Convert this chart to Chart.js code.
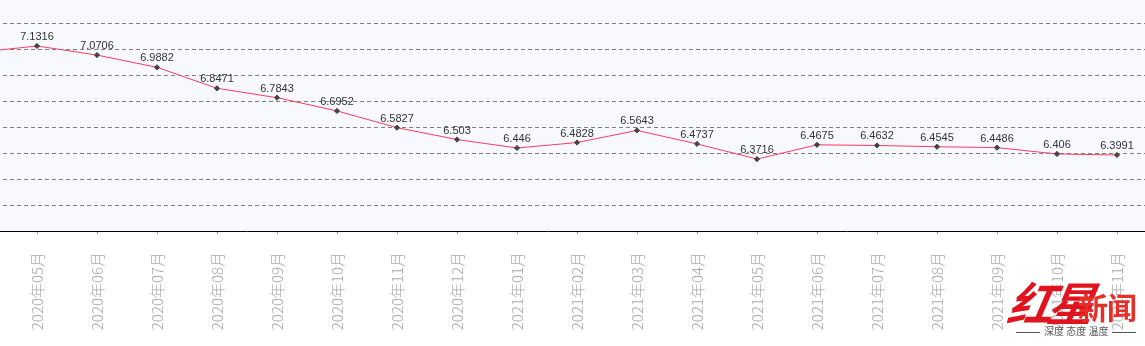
<!DOCTYPE html>
<html lang="zh-CN">
<head>
<meta charset="utf-8">
<title>人民币汇率中间价月度走势</title>
<script src="https://cdn.jsdelivr.net/npm/chart.js@4.4.1/dist/chart.umd.min.js"></script>
<style>
  html, body { margin: 0; padding: 0; background: #fff; overflow: hidden; }
  body { width: 1145px; height: 346px; position: relative; }
  #wrap { position: absolute; left: -53px; top: 0; }
  .logo { position: absolute; left: 1008px; top: 268px; width: 137px; height: 74px; color: #e0141e; }
  .logo .hx { position: absolute; left: 1px; top: 0; font: italic 700 46px "Noto Sans CJK SC", sans-serif; letter-spacing: -6px; transform: skewX(-10deg); }
  .logo .xw { position: absolute; left: 70px; top: 16px; font: 700 30px "Noto Sans CJK SC", sans-serif; color: #e5302a; letter-spacing: -1px; }
  .logo .slogan { position: absolute; left: 4px; top: 55px; width: 128px; font: 10px "Noto Sans CJK SC", sans-serif; color: #555; text-align: center; white-space: nowrap; }
  .logo .slogan::before, .logo .slogan::after { content: ""; display: inline-block; width: 24px; border-top: 1px solid #555; vertical-align: middle; margin: 0 4px; }
</style>
</head>
<body>
<div id="wrap"><canvas id="rateChart" width="1200" height="346"></canvas></div>
<div class="logo">
  <span class="hx">红星</span><span class="xw">新闻</span>
  <div class="slogan">深度 态度 温度</div>
</div>
<script>
// monthly central parity, 2020-04 .. 2021-11 (first month runs off the left edge)
const months = [
  '2020年04月', '2020年05月', '2020年06月', '2020年07月', '2020年08月', '2020年09月',
  '2020年10月', '2020年11月', '2020年12月', '2021年01月', '2021年02月', '2021年03月',
  '2021年04月', '2021年05月', '2021年06月', '2021年07月', '2021年08月', '2021年09月',
  '2021年10月', '2021年11月'
];
const rates = [
  7.0887, 7.1316, 7.0706, 6.9882, 6.8471, 6.7843,
  6.6952, 6.5827, 6.503, 6.446, 6.4828, 6.5643,
  6.4737, 6.3716, 6.4675, 6.4632, 6.4545, 6.4486,
  6.406, 6.3991
];
// y range and dashed grid levels
const yMin = 5.8883;
const yMax = 7.4407;
const gridLevels = [7.2841, 7.1094, 6.9347, 6.7599, 6.5852, 6.4105, 6.2357, 6.061];

// drop the edge padding chart.js reserves for rotated / hidden labels
const noPadding = (s) => {
  s.paddingLeft = 0;
  s.paddingRight = 0;
  s.paddingTop = 0;
  s.paddingBottom = 0;
};

const plotBg = {
  id: 'plotBg',
  beforeDraw(chart) {
    const { ctx, chartArea: a } = chart;
    ctx.save();
    ctx.fillStyle = '#f8f9ff';
    ctx.fillRect(a.left, 0, a.right - a.left, a.bottom);
    ctx.restore();
  }
};

// value text above every point
const valueLabels = {
  id: 'valueLabels',
  afterDatasetsDraw(chart) {
    const ctx = chart.ctx;
    const meta = chart.getDatasetMeta(0);
    ctx.save();
    ctx.font = '11px "Liberation Sans", Arial, sans-serif';
    ctx.fillStyle = '#333';
    ctx.textAlign = 'center';
    ctx.textBaseline = 'alphabetic';
    meta.data.forEach((pt, i) => {
      ctx.fillText(String(rates[i]), pt.x, pt.y - 6);
    });
    ctx.restore();
  }
};

new Chart(document.getElementById('rateChart'), {
  type: 'line',
  data: {
    labels: months,
    datasets: [{
      data: rates,
      borderColor: '#ff3d5c',
      borderWidth: 1,
      tension: 0,
      pointStyle: 'rectRot',
      pointRadius: 2.6,
      pointBackgroundColor: '#444',
      pointBorderColor: '#444',
      pointBorderWidth: 1,
      pointHoverRadius: 3
    }]
  },
  options: {
    responsive: false,
    animation: false,
    devicePixelRatio: 1,
    layout: { padding: 0, autoPadding: false },
    plugins: {
      legend: false,
      tooltip: { enabled: false }
    },
    scales: {
      x: {
        offset: true,
        afterFit: (s) => { s.height = 115; noPadding(s); },
        border: { color: '#000', width: 1 },
        grid: { drawOnChartArea: false, drawTicks: true, tickLength: 3, color: '#999' },
        ticks: {
          autoSkip: false,
          maxRotation: 90,
          minRotation: 90,
          padding: 18,
          color: '#aaa',
          font: { family: '"Noto Sans CJK SC", sans-serif', size: 15, weight: '300' }
        }
      },
      y: {
        min: yMin,
        max: yMax,
        afterFit: (s) => { s.width = 0; noPadding(s); },
        afterBuildTicks: (s) => { s.ticks = gridLevels.map(v => ({ value: v })); },
        border: { display: false, dash: [4, 3] },
        grid: { color: '#808080', lineWidth: 1, drawTicks: false },
        ticks: { display: false }
      }
    }
  },
  plugins: [plotBg, valueLabels]
});
</script>
</body>
</html>
